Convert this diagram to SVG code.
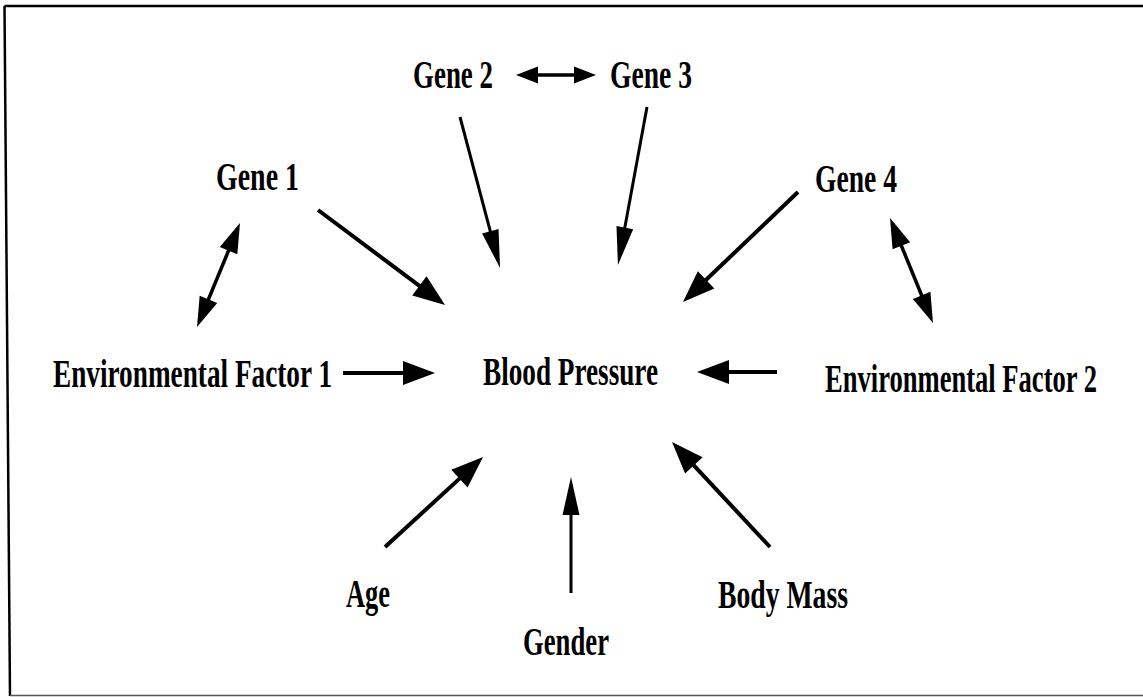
<svg xmlns="http://www.w3.org/2000/svg" width="1143" height="697" viewBox="0 0 1143 697">
<style>
.lbl{font-family:"Liberation Serif","Times New Roman",serif;font-weight:bold;font-size:40px;fill:#000}
.c{stroke:#000;fill:none;stroke-linecap:butt}
.w4{stroke-width:4;marker-end:url(#ah)}
.w3n{stroke-width:3;marker-end:url(#ahn)}
.dbl{stroke-width:3.5;marker-start:url(#ahd);marker-end:url(#ahd)}
.dbls{stroke-width:3.5;marker-start:url(#ahs);marker-end:url(#ahs)}
</style>
<defs>
<marker id="ah" markerUnits="userSpaceOnUse" markerWidth="32" markerHeight="24" refX="26" refY="12" orient="auto-start-reverse" overflow="visible"><path d="M0,0 L32,12 L0,24 Z" fill="#000"/></marker>
<marker id="ahn" markerUnits="userSpaceOnUse" markerWidth="38" markerHeight="17" refX="30" refY="8.5" orient="auto-start-reverse" overflow="visible"><path d="M0,0 L38,8.5 L0,17 Z" fill="#000"/></marker>
<marker id="ahd" markerUnits="userSpaceOnUse" markerWidth="30" markerHeight="19" refX="24" refY="9.5" orient="auto-start-reverse" overflow="visible"><path d="M0,0 L30,9.5 L0,19 Z" fill="#000"/></marker>
<marker id="ahs" markerUnits="userSpaceOnUse" markerWidth="22" markerHeight="17" refX="17" refY="8.5" orient="auto-start-reverse" overflow="visible"><path d="M0,0 L22,8.5 L0,17 Z" fill="#000"/></marker>
</defs>
<rect width="1143" height="697" fill="#fff"/>
<g id="border" fill="none">
<path d="M4.5,6 L1143,6" stroke="#000" stroke-width="2.5"/>
<path d="M4.5,6 L10,696" stroke="#000" stroke-width="2.5"/>
<path d="M10,695.5 L1143,695.5" stroke="#555" stroke-width="1.5"/>
</g>
<g id="connectors">
<line class="c w4" x1="318" y1="210" x2="440.2" y2="301.4"/>
<line class="c w3n" x1="460" y1="117" x2="498" y2="260.3"/>
<line class="c w3n" x1="647" y1="107" x2="619.4" y2="257.1"/>
<line class="c w4" x1="798" y1="192" x2="687.3" y2="297.8"/>
<line class="c dbls" x1="521" y1="75" x2="591" y2="75"/>
<line class="c dbl" x1="237.7" y1="228.5" x2="199.3" y2="321.5"/>
<line class="c dbl" x1="892.3" y1="223.5" x2="930.7" y2="317.5"/>
<line class="c w4" x1="343" y1="373" x2="429" y2="373"/>
<line class="c w4" x1="777" y1="372" x2="703" y2="372"/>
<line class="c w4" x1="385" y1="547" x2="478.6" y2="461.1"/>
<line class="c w3n" x1="571" y1="593" x2="571" y2="485"/>
<line class="c w4" x1="770" y1="547" x2="676.1" y2="446.4"/>
</g>
<g id="node-bp"><text class="lbl" x="483" y="385" textLength="175" lengthAdjust="spacingAndGlyphs">Blood Pressure</text></g>
<g id="node-gene1"><text class="lbl" x="216" y="190" textLength="83" lengthAdjust="spacingAndGlyphs">Gene 1</text></g>
<g id="node-gene2"><text class="lbl" x="413" y="88" textLength="80" lengthAdjust="spacingAndGlyphs">Gene 2</text></g>
<g id="node-gene3"><text class="lbl" x="610" y="88" textLength="82" lengthAdjust="spacingAndGlyphs">Gene 3</text></g>
<g id="node-gene4"><text class="lbl" x="815" y="192" textLength="82" lengthAdjust="spacingAndGlyphs">Gene 4</text></g>
<g id="node-env1"><text class="lbl" x="53" y="387" textLength="279" lengthAdjust="spacingAndGlyphs">Environmental Factor 1</text></g>
<g id="node-env2"><text class="lbl" x="825" y="392" textLength="272" lengthAdjust="spacingAndGlyphs">Environmental Factor 2</text></g>
<g id="node-age"><text class="lbl" x="346" y="607" textLength="44" lengthAdjust="spacingAndGlyphs">Age</text></g>
<g id="node-gender"><text class="lbl" x="523" y="655" textLength="86" lengthAdjust="spacingAndGlyphs">Gender</text></g>
<g id="node-bodymass"><text class="lbl" x="718" y="608" textLength="130" lengthAdjust="spacingAndGlyphs">Body Mass</text></g>
</svg>
